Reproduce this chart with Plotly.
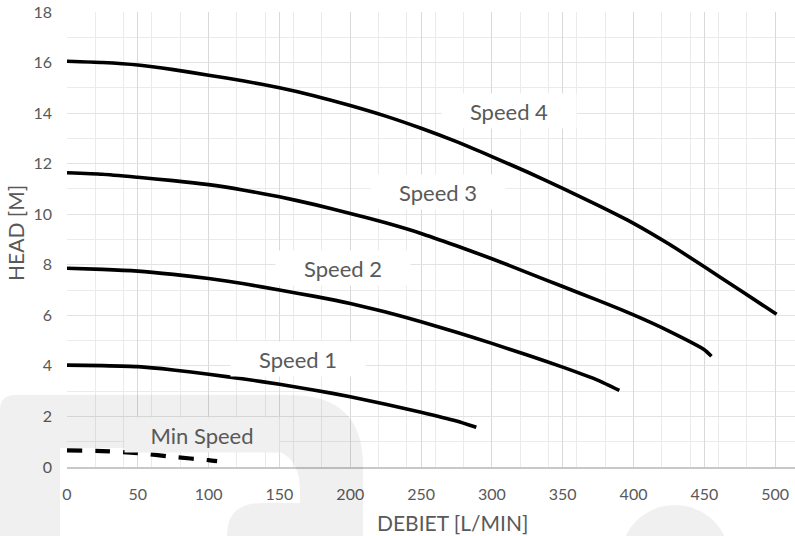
import plotly.graph_objects as go

# ---- data ----
flow_s4 = [0, 25, 50, 75, 100, 125, 150, 175, 200, 225, 250, 275, 300, 325, 350, 375, 400, 425, 450, 475, 501]
head_s4 = [16.05, 16.0, 15.9, 15.72, 15.5, 15.27, 15.0, 14.68, 14.3, 13.88, 13.4, 12.87, 12.28, 11.67, 11.02, 10.35, 9.64, 8.82, 7.92, 7.0, 6.04]

flow_s3 = [0, 25, 50, 75, 100, 125, 150, 175, 200, 225, 250, 275, 300, 325, 350, 375, 400, 425, 450, 455]
head_s3 = [11.64, 11.58, 11.46, 11.33, 11.17, 10.95, 10.69, 10.38, 10.03, 9.66, 9.24, 8.75, 8.24, 7.69, 7.14, 6.59, 6.02, 5.38, 4.64, 4.38]

flow_s2 = [0, 25, 50, 75, 100, 125, 150, 175, 200, 225, 250, 275, 300, 325, 350, 375, 390]
head_s2 = [7.86, 7.82, 7.75, 7.62, 7.46, 7.25, 7.0, 6.75, 6.47, 6.13, 5.75, 5.33, 4.89, 4.43, 3.95, 3.43, 3.03]

flow_s1 = [0, 25, 50, 75, 100, 125, 150, 175, 200, 225, 250, 275, 289]
head_s1 = [4.03, 4.01, 3.97, 3.84, 3.67, 3.48, 3.27, 3.04, 2.78, 2.48, 2.17, 1.82, 1.57]

flow_min = [0, 25, 50, 75, 100, 106]
head_min = [0.66, 0.63, 0.55, 0.40, 0.27, 0.23]

series_names = ["Speed 4", "Speed 3", "Speed 2", "Speed 1", "Min Speed"]
x_ticks = [0, 50, 100, 150, 200, 250, 300, 350, 400, 450, 500]
y_ticks = [0, 2, 4, 6, 8, 10, 12, 14, 16, 18]
x_title = "DEBIET [L/MIN]"
y_title = "HEAD [M]"

# ---- figure ----
W, H = 795, 536
ML, MR, MT, MB = 67, 0, 12, 69
PW, PH = W - ML - MR, H - MT - MB

TXT = "#595959"
FONT = "Lato"

fig = go.Figure()
curves = [(flow_s4, head_s4), (flow_s3, head_s3), (flow_s2, head_s2), (flow_s1, head_s1)]
for (fx, hy), name in zip(curves, series_names[:4]):
    fig.add_trace(go.Scatter(x=fx, y=hy, mode="lines", name=name,
                             line=dict(color="black", width=3.6, shape="spline", smoothing=0.5),
                             showlegend=False, hoverinfo="skip"))
fig.add_trace(go.Scatter(x=flow_min, y=head_min, mode="lines", name=series_names[4],
                         line=dict(color="black", width=4.2, dash="15px,13px", shape="spline", smoothing=0.5),
                         showlegend=False, hoverinfo="skip"))

# series labels (data coordinates)
label_pos = {"Speed 4": (312, 14.08), "Speed 3": (262, 10.88), "Speed 2": (195, 7.87),
             "Speed 1": (163, 4.26), "Min Speed": (95, 1.27)}
annotations = []
for name in series_names:
    lx, ly = label_pos[name]
    bg = "#f0f0f0" if name == "Min Speed" else "white"
    annotations.append(dict(x=lx, y=ly, xref="x", yref="y", text=name, showarrow=False,
                            font=dict(family=FONT, size=22, color=TXT),
                            bgcolor=bg, width=(150 if name == "Min Speed" else 130), height=30,
                            borderpad=2, xanchor="center", yanchor="middle"))

def px(xp):
    return (xp - ML) / PW

def py(yp):
    return (MT + PH - yp) / PH

annotations.append(dict(x=px(452), y=py(522), xref="paper", yref="paper", text=x_title,
                        showarrow=False, font=dict(family=FONT, size=21, color=TXT),
                        xanchor="center", yanchor="middle"))
annotations.append(dict(x=px(15), y=py(233), xref="paper", yref="paper", text=y_title,
                        showarrow=False, textangle=-90, font=dict(family=FONT, size=21, color=TXT),
                        xanchor="center", yanchor="middle"))

# watermark (semi-transparent overlay)
def P(xp, yp):
    return f"{px(xp):.5f},{py(yp):.5f}"

wm = "rgba(0,0,0,0.06)"
arch = ("M " + P(0, 540) + " L " + P(0, 410) + " Q " + P(0, 395) + " " + P(15, 395) +
        " L " + P(290, 395) + " Q " + P(363, 395) + " " + P(363, 465) + " L " + P(363, 540) +
        " L " + P(300, 540) + " L " + P(300, 490) + " Q " + P(300, 448) + " " + P(258, 448) +
        " L " + P(60, 448) + " L " + P(60, 540) + " Z")
blob = ("M " + P(227, 540) + " L " + P(227, 535) + " Q " + P(227, 503) + " " + P(262, 503) +
        " L " + P(300, 503) + " L " + P(300, 540) + " Z")
shapes = [
    dict(type="path", path=arch, xref="paper", yref="paper", fillcolor=wm, line=dict(width=0), layer="above"),
    dict(type="path", path=blob, xref="paper", yref="paper", fillcolor=wm, line=dict(width=0), layer="above"),
    dict(type="circle", xref="paper", yref="paper", x0=px(620), x1=px(730), y0=py(505), y1=py(615),
         fillcolor=wm, line=dict(width=0), layer="above"),
]

fig.update_layout(
    width=W, height=H,
    margin=dict(l=ML, r=MR, t=MT, b=MB),
    paper_bgcolor="white", plot_bgcolor="rgba(0,0,0,0)",
    annotations=annotations, shapes=shapes,
    showlegend=False,
)
fig.update_xaxes(range=[0, 514], tickvals=x_ticks, ticks="", ticklabelstandoff=12,
                 tickfont=dict(family=FONT, size=16, color=TXT),
                 showgrid=True, gridcolor="#d9d9d9", gridwidth=1.4,
                 minor=dict(dtick=20, tick0=0, showgrid=True, gridcolor="#ebebeb", gridwidth=1.2),
                 showline=True, linecolor="#c8c8c8", linewidth=1.5, zeroline=False, fixedrange=True)
fig.update_yaxes(range=[0, 18], tickvals=y_ticks, ticks="", ticklabelstandoff=14,
                 tickfont=dict(family=FONT, size=16, color=TXT),
                 showgrid=True, gridcolor="#e3e3e3", gridwidth=1.4,
                 minor=dict(dtick=1, tick0=0, showgrid=True, gridcolor="#ebebeb", gridwidth=1.2),
                 showline=False, zeroline=False, fixedrange=True)

fig.write_html("out.html", config={"displayModeBar": False},
               post_script="document.body.style.margin='0';document.body.style.overflow='hidden';")
